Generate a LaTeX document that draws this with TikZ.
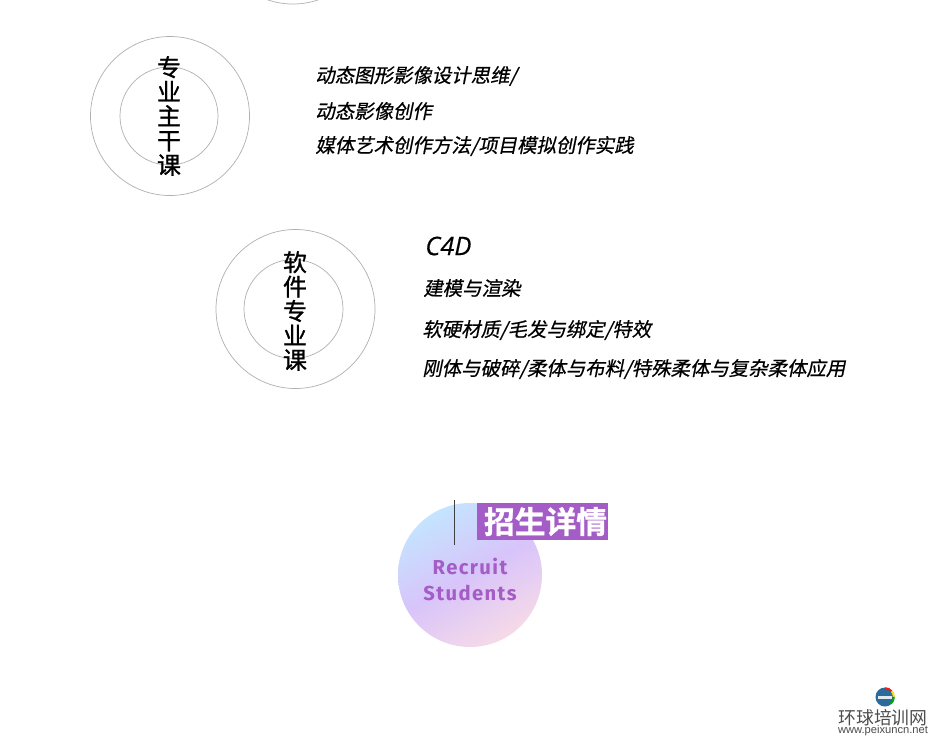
\documentclass[tikz,border=0pt]{standalone}
\usepackage{fontspec}
\setmainfont{Liberation Sans}
\newfontfamily\cjk[FakeBold=1]{Noto Sans CJK SC}
\newfontfamily\cjkthin{Noto Sans CJK SC}
\newfontfamily\cjkit[FakeSlant=0.2,FakeBold=0.6]{Noto Sans CJK SC}
\newfontfamily\cjkbf[FakeBold=1]{Noto Sans CJK SC Bold}
\newfontfamily\fira[LetterSpace=7]{Fira Sans}
\newfontfamily\opensans[FakeBold=0.4]{Open Sans}
\definecolor{ringgray}{HTML}{B0B0B0}
\definecolor{recruitpurple}{HTML}{A45CC6}
\definecolor{badgeblue}{HTML}{C4E4FF}
\definecolor{badgeviolet}{HTML}{D8C4FA}
\definecolor{badgepink}{HTML}{F6DAE8}
\definecolor{logoblue}{HTML}{2C6A9C}
\tikzset{
	ringline/.style={draw=ringgray,line width=0.4pt},
	stacktext/.style={align=center,font=\cjk\fontsize{13.6}{13.9}\selectfont,inner sep=0pt},
	coursetext/.style={anchor=west,font=\cjkit\fontsize{11.05}{12}\selectfont,inner sep=0pt},
}
\begin{document}
\begin{tikzpicture}[x=0.02cm,y=-0.02cm]
	\useasboundingbox (0,0) rectangle (938,748);
	\fill[white] (0,0) rectangle (938,748);
	% circles
	\begin{scope}
		\clip (0,0) rectangle (938,748);
		\draw[ringline] (293,-75) circle (79);
	\end{scope}
	\draw[ringline] (170,116) circle (79.5);
	\draw[ringline] (169,116) circle (49);
	\draw[ringline] (295.5,309) circle (79.5);
	\draw[ringline] (293.5,309) circle (49.5);
	\node[stacktext] (mainlabel) at (169,116) {专\\业\\主\\干\\课};
	\node[stacktext] (softlabel) at (295,311) {软\\件\\专\\业\\课};
	% course lists
	\node[coursetext] (mainone) at (315,76) {动态图形影像设计思维/};
	\node[coursetext] (maintwo) at (315,111) {动态影像创作};
	\node[coursetext] (mainthree) at (315,146) {媒体艺术创作方法/项目模拟创作实践};
	\node[coursetext,font=\opensans\itshape\fontsize{14.5}{15}\selectfont] (cfour) at (425,246) {C4D};
	\node[coursetext] (softone) at (423,288) {建模与渲染};
	\node[coursetext] (softtwo) at (422,330) {软硬材质/毛发与绑定/特效};
	\node[coursetext] (softthree) at (422,369) {刚体与破碎/柔体与布料/特殊柔体与复杂柔体应用};
	% recruit badge
	\begin{scope}
		\clip (470,575) circle (72);
		\shade[top color=badgeblue,bottom color=badgepink,middle color=badgeviolet,shading angle=30] (398,503) rectangle (542,647);
	\end{scope}
	\draw[line width=1.1pt,black!75] (454.5,500) -- (454.5,545);
	\node[fill=recruitpurple,minimum width=131*0.02cm,minimum height=37*0.02cm,inner sep=0pt] (recruittitle) at (542.5,521.5) {};
	\node[text=white,inner sep=0pt,font=\cjkbf\fontsize{17.5}{18}\selectfont] (recruitword) at (545.5,521.5) {招生详情};
	\node[align=center,text=recruitpurple,inner sep=0pt,font=\fira\bfseries\fontsize{11.5}{14.8}\selectfont] (recruitname) at (470,579) {Recruit\\Students};
	% watermark
	\fill[logoblue] (885,697) circle (9.5);
	\draw[line width=1.1pt,red!80!orange] (885,697) ++(270:8.8) arc (270:320:8.8);
	\draw[line width=1.1pt,yellow!85!orange] (885,697) ++(320:8.8) arc (320:360:8.8);
	\draw[line width=1.1pt,green!65!black] (885,697) ++(0:8.8) arc (0:50:8.8);
	\fill[white!85!logoblue] (878,695.5) rectangle (892,698.5);
	\node[inner sep=0pt,text=black!70,font=\cjkthin\fontsize{10.15}{10}\selectfont] (marktitle) at (883,718) {环球培训网};
	\node[inner sep=0pt,text=black!70,font=\fontsize{6.35}{8}\selectfont] (markurl) at (883,731) {www.peixuncn.net};
\end{tikzpicture}
\end{document}
